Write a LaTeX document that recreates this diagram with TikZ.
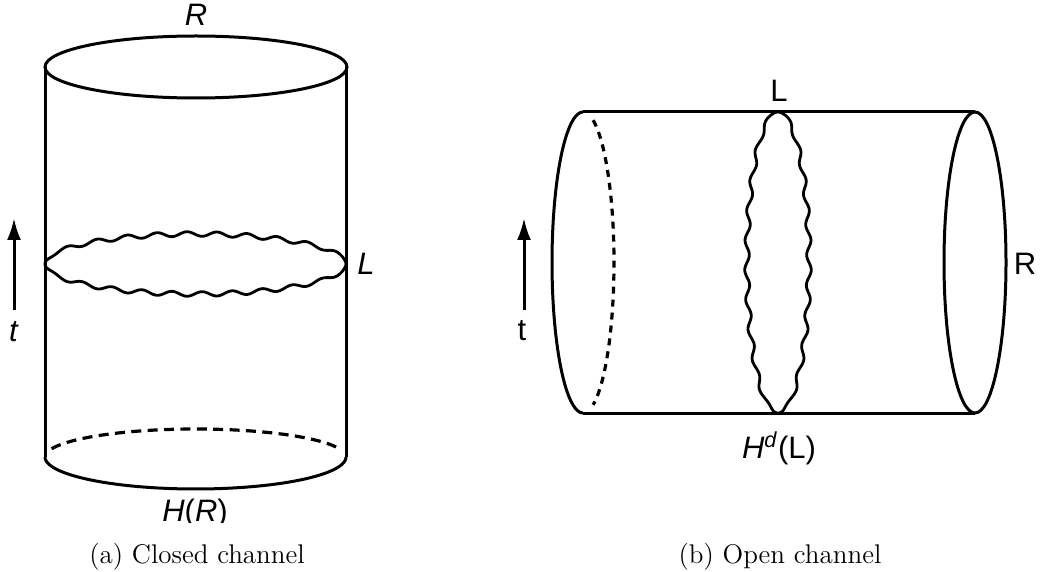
\documentclass[tikz,border=0pt]{standalone}
\usepackage{fontspec}
\setsansfont{Liberation Sans}
\usetikzlibrary{arrows.meta}
\tikzset{
  body/.style={line width=1.5pt,black},
  dashline/.style={line width=1.6pt,black,dash pattern=on 3.5pt off 3pt},
  dashwide/.style={line width=1.6pt,black,dash pattern=on 5pt off 3.2pt},
  wavy/.style={line width=1.4pt,black,line join=round},
  timearrow/.style={line width=1.5pt,black,-{Latex[length=11pt,width=7pt]}},
  lab/.style={inner sep=0pt,anchor=base,font=\sffamily\fontsize{15.5}{18}\selectfont},
  captext/.style={inner sep=0pt,anchor=base,font=\rmfamily\fontsize{13.5}{16}\selectfont}
}
\begin{document}
\begin{tikzpicture}[x=0.5pt,y=-0.5pt]
\useasboundingbox (0,0) rectangle (1044,572);
\begin{scope}
\clip (0,0) rectangle (1044,522);
% left cylinder
\draw[body] (196,67) ellipse [x radius=151,y radius=31];
\draw[body] (45,67) -- (45,457);
\draw[body] (346,67) -- (346,457);
\draw[body] plot[domain=180:0,samples=60] ({195.5+150.5*cos(\x)},{457+32*sin(\x)});
\draw[dashwide] plot[domain=163:17,samples=60] ({195.5+150.5*cos(\x)},{457-28*sin(\x)});
\draw[wavy] plot[domain=180:0,samples=361] ({195.5+150.5*cos(\x)},{264-30*sin(\x)-2.3*sqrt(sqrt(abs(sin(\x))))*cos(12*(195.5+150.5*cos(\x)-187))});
\draw[wavy] plot[domain=180:0,samples=361] ({195.5+150.5*cos(\x)},{264+30*sin(\x)+2.3*sqrt(sqrt(abs(sin(\x))))*cos(12*(195.5+150.5*cos(\x)-187))});
\coordinate (arrAs) at (14,310);
\coordinate (arrAe) at (14,218);
\draw[timearrow] (arrAs) -- (arrAe);
\node[lab] (tA) at (14,342) {\textit{t}};
\node[lab] (lA) at (366,275) {\textit{L}};
\node[lab] (rA) at (196,26) {\textit{R}};
\node[lab] (hA) at (195,521) {\textit{H}(\textit{R})};
% right cylinder
\draw[body] (583,112) -- (975,112);
\draw[body] (583,413) -- (975,413);
\draw[body] (975,262.5) ellipse [x radius=31,y radius=150.5];
\draw[body] plot[domain=-90:90,samples=60] ({583-31*cos(\x)},{262.5+150.5*sin(\x)});
\draw[dashline] plot[domain=-71:71,samples=60] ({583+31*cos(\x)},{262.5+150.5*sin(\x)});
\draw[wavy] plot[domain=-90:90,samples=361] ({778-31*cos(\x)-2.3*sqrt(sqrt(abs(cos(\x))))*cos(12*(262.5+150.5*sin(\x)-270))},{262.5+150.5*sin(\x)});
\draw[wavy] plot[domain=-90:90,samples=361] ({778+31*cos(\x)+2.3*sqrt(sqrt(abs(cos(\x))))*cos(12*(262.5+150.5*sin(\x)-270))},{262.5+150.5*sin(\x)});
\coordinate (arrBs) at (524,310);
\coordinate (arrBe) at (524,218);
\draw[timearrow] (arrBs) -- (arrBe);
\node[lab] (tB) at (522,340) {t};
\node[lab] (lB) at (779,102) {L};
\node[lab] (rB) at (1025,275) {R};
\node[lab] (hB) at (779,458) {\textit{H}\textsuperscript{\textit{d}}(L)};
\end{scope}
\node[captext] (capA) at (197,563) {(a) Closed channel};
\node[captext] (capB) at (780,563) {(b) Open channel};
\end{tikzpicture}
\end{document}
